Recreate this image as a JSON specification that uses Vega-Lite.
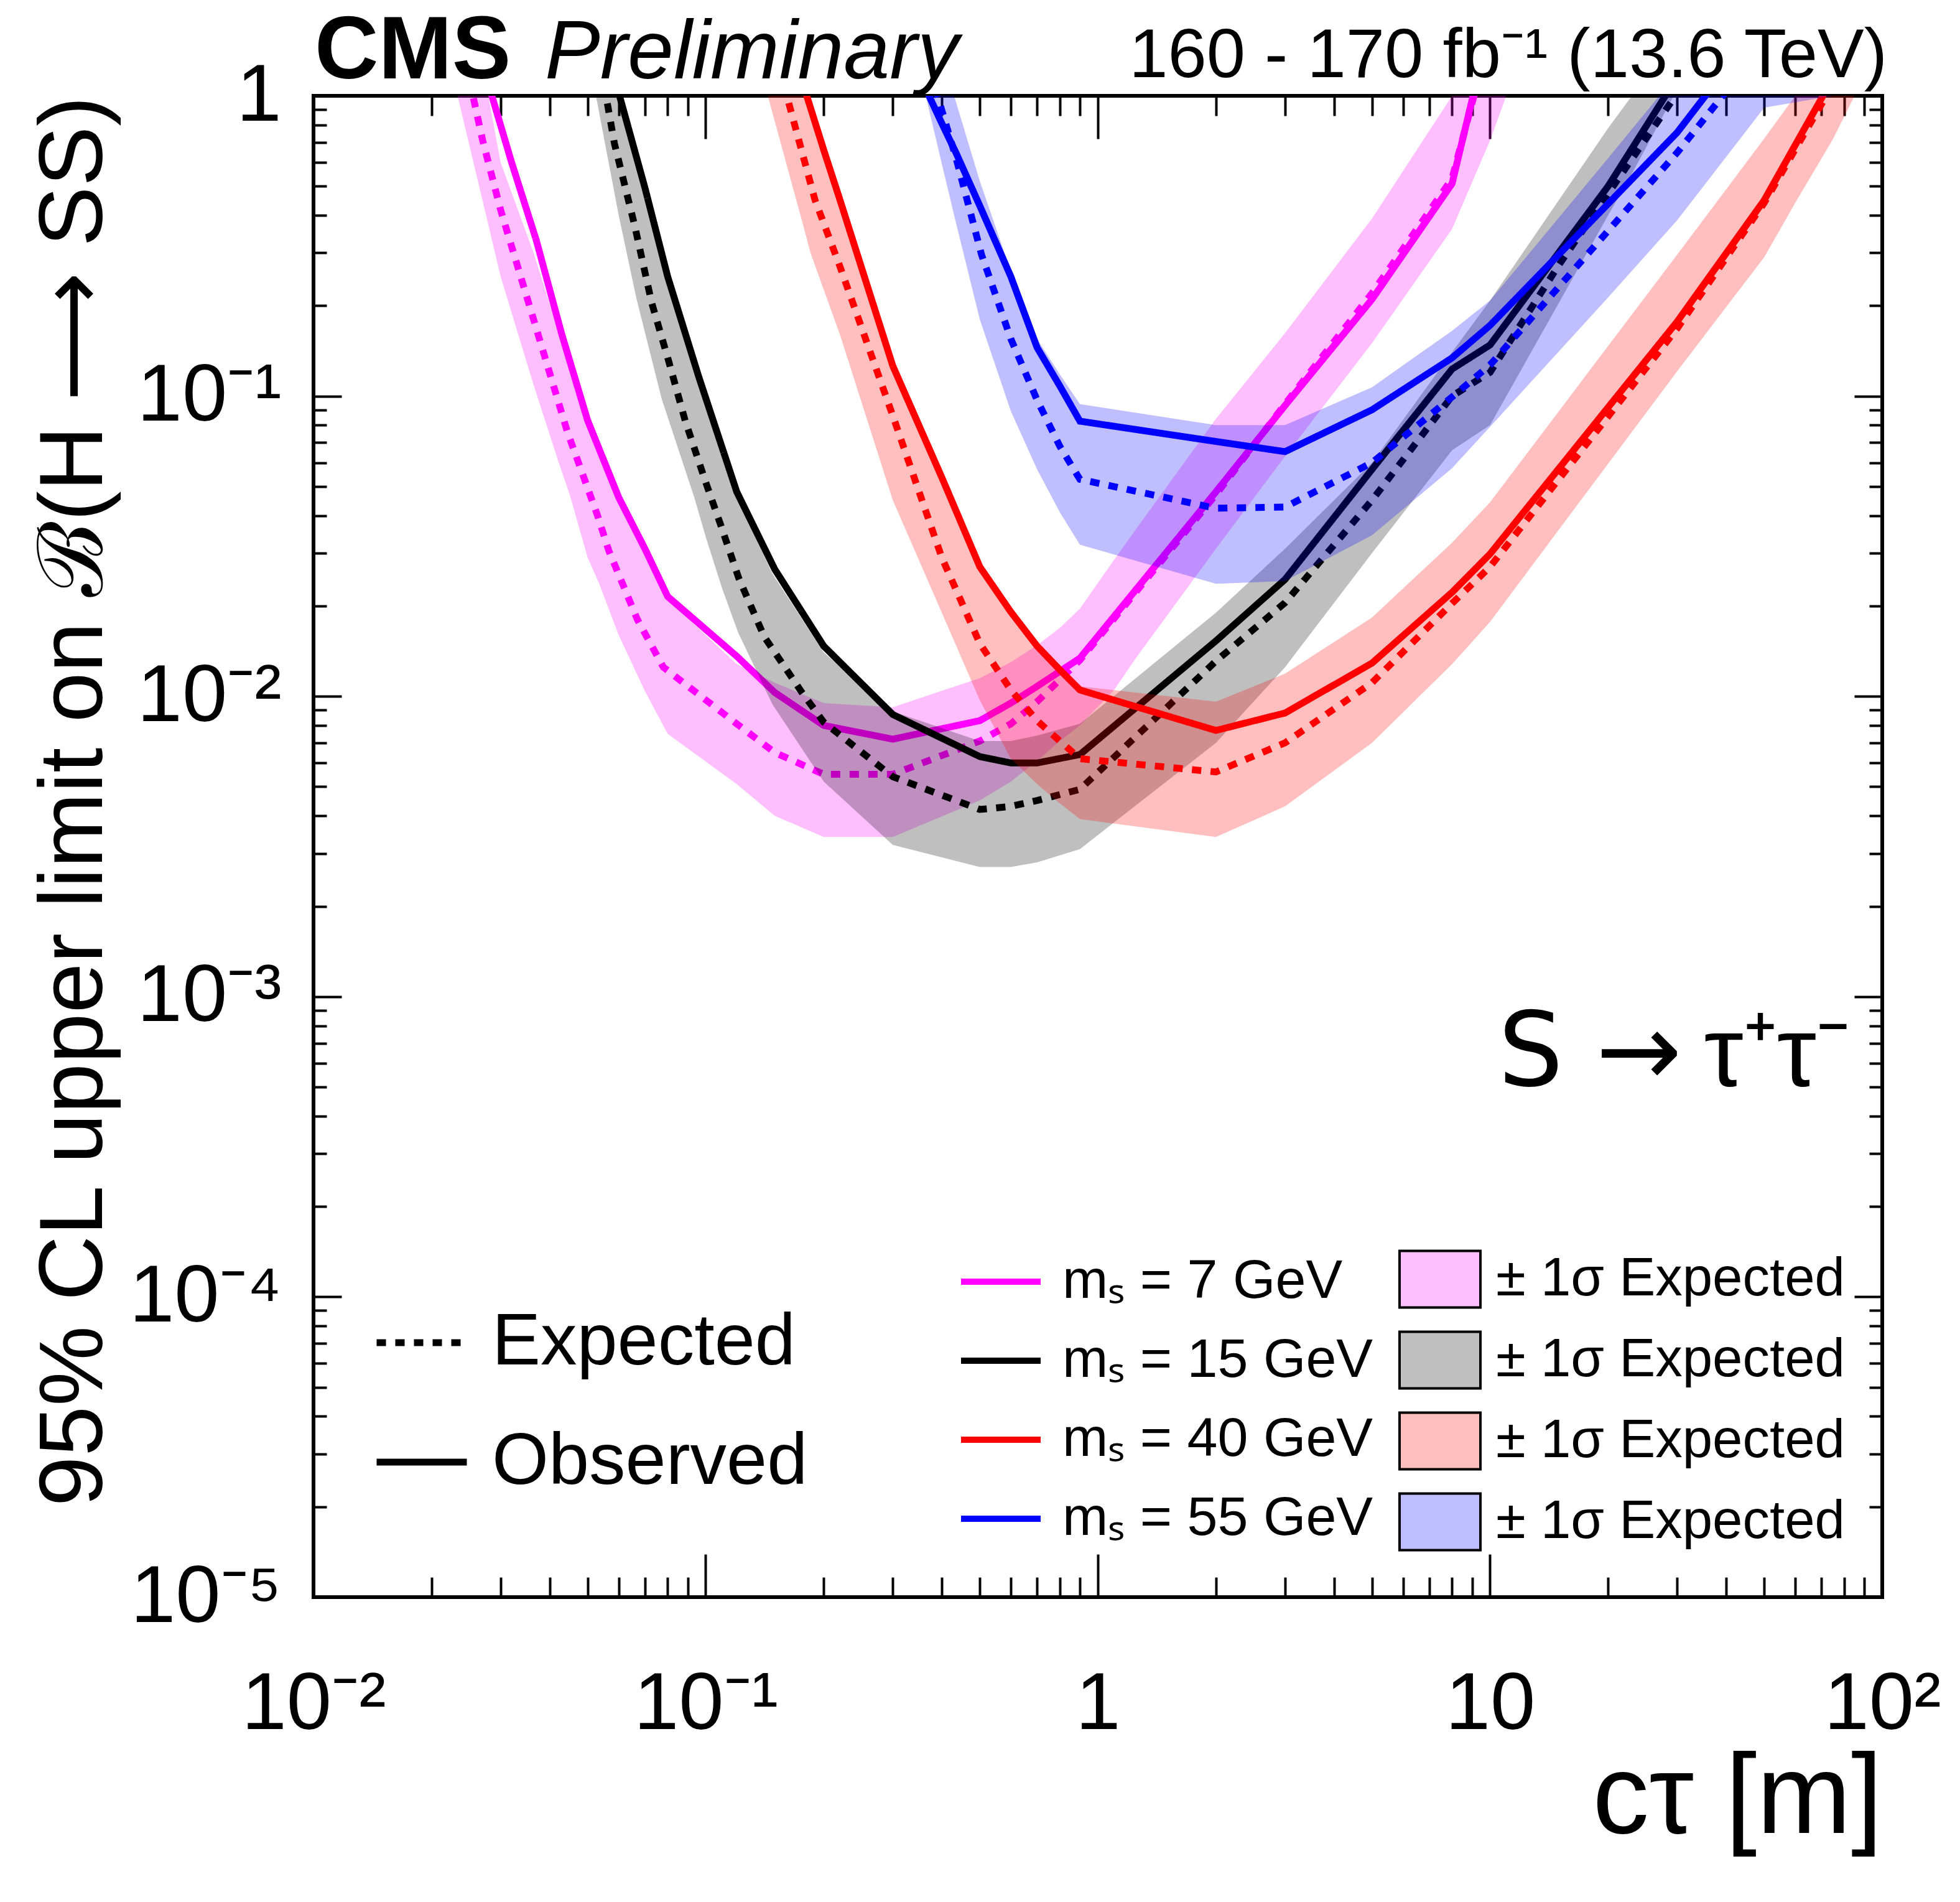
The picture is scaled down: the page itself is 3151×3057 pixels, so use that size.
{
  "$schema": "https://vega.github.io/schema/vega-lite/v6.json",
  "description": "CMS Preliminary: 95% CL upper limits on B(H -> SS) vs c tau for S -> tau tau, four scalar masses",
  "width": 2522,
  "height": 2413,
  "autosize": {"type": "none"},
  "padding": {"left": 504, "top": 154, "right": 125, "bottom": 490},
  "background": "white",
  "config": {
    "view": {"stroke": "black", "strokeWidth": 6},
    "font": "Liberation Sans",
    "axis": {
      "grid": false,
      "domain": false,
      "tickColor": "black",
      "tickWidth": 4,
      "labelColor": "black",
      "labelFont": "Liberation Sans",
      "titleFont": "Liberation Sans",
      "titleColor": "black",
      "titleFontWeight": "normal",
      "labelOverlap": false,
      "labelFlush": false,
      "titleLimit": 5000,
      "labelLimit": 2000
    },
    "legend": {"labelFont": "Liberation Sans", "labelColor": "black", "labelLimit": 3000, "padding": 0}
  },
  "datasets": {
    "lines": [
      {"m": "7", "kind": "Observed", "ct": 0.027, "lim": 1.27},
      {"m": "7", "kind": "Observed", "ct": 0.0285, "lim": 1.0},
      {"m": "7", "kind": "Observed", "ct": 0.032, "lim": 0.6},
      {"m": "7", "kind": "Observed", "ct": 0.037, "lim": 0.33},
      {"m": "7", "kind": "Observed", "ct": 0.043, "lim": 0.16},
      {"m": "7", "kind": "Observed", "ct": 0.05, "lim": 0.083},
      {"m": "7", "kind": "Observed", "ct": 0.06, "lim": 0.046},
      {"m": "7", "kind": "Observed", "ct": 0.07, "lim": 0.031},
      {"m": "7", "kind": "Observed", "ct": 0.08, "lim": 0.0215},
      {"m": "7", "kind": "Observed", "ct": 0.12, "lim": 0.0136},
      {"m": "7", "kind": "Observed", "ct": 0.15, "lim": 0.0103},
      {"m": "7", "kind": "Observed", "ct": 0.2, "lim": 0.008},
      {"m": "7", "kind": "Observed", "ct": 0.3, "lim": 0.0072},
      {"m": "7", "kind": "Observed", "ct": 0.5, "lim": 0.0083},
      {"m": "7", "kind": "Observed", "ct": 0.6, "lim": 0.0095},
      {"m": "7", "kind": "Observed", "ct": 0.7, "lim": 0.0108},
      {"m": "7", "kind": "Observed", "ct": 0.9, "lim": 0.0134},
      {"m": "7", "kind": "Observed", "ct": 2, "lim": 0.048},
      {"m": "7", "kind": "Observed", "ct": 3, "lim": 0.093},
      {"m": "7", "kind": "Observed", "ct": 5, "lim": 0.21},
      {"m": "7", "kind": "Observed", "ct": 8, "lim": 0.51},
      {"m": "7", "kind": "Observed", "ct": 9.05, "lim": 1.0},
      {"m": "7", "kind": "Observed", "ct": 9.3, "lim": 1.15},

      {"m": "7", "kind": "Expected", "ct": 0.0245, "lim": 1.3},
      {"m": "7", "kind": "Expected", "ct": 0.0255, "lim": 1.0},
      {"m": "7", "kind": "Expected", "ct": 0.027, "lim": 0.71},
      {"m": "7", "kind": "Expected", "ct": 0.03, "lim": 0.417},
      {"m": "7", "kind": "Expected", "ct": 0.0336, "lim": 0.255},
      {"m": "7", "kind": "Expected", "ct": 0.0387, "lim": 0.138},
      {"m": "7", "kind": "Expected", "ct": 0.0444, "lim": 0.076},
      {"m": "7", "kind": "Expected", "ct": 0.053, "lim": 0.04},
      {"m": "7", "kind": "Expected", "ct": 0.0566, "lim": 0.0306},
      {"m": "7", "kind": "Expected", "ct": 0.067, "lim": 0.018},
      {"m": "7", "kind": "Expected", "ct": 0.078, "lim": 0.0125},
      {"m": "7", "kind": "Expected", "ct": 0.12, "lim": 0.0081},
      {"m": "7", "kind": "Expected", "ct": 0.15, "lim": 0.0065},
      {"m": "7", "kind": "Expected", "ct": 0.2, "lim": 0.0055},
      {"m": "7", "kind": "Expected", "ct": 0.3, "lim": 0.0055},
      {"m": "7", "kind": "Expected", "ct": 0.5, "lim": 0.0071},
      {"m": "7", "kind": "Expected", "ct": 0.6, "lim": 0.0081},
      {"m": "7", "kind": "Expected", "ct": 0.7, "lim": 0.0096},
      {"m": "7", "kind": "Expected", "ct": 0.9, "lim": 0.0132},
      {"m": "7", "kind": "Expected", "ct": 2, "lim": 0.047},
      {"m": "7", "kind": "Expected", "ct": 3, "lim": 0.094},
      {"m": "7", "kind": "Expected", "ct": 5, "lim": 0.22},
      {"m": "7", "kind": "Expected", "ct": 8, "lim": 0.53},
      {"m": "7", "kind": "Expected", "ct": 9.1, "lim": 1.0},
      {"m": "7", "kind": "Expected", "ct": 9.3, "lim": 1.15},

      {"m": "15", "kind": "Observed", "ct": 0.058, "lim": 1.2},
      {"m": "15", "kind": "Observed", "ct": 0.0603, "lim": 1.0},
      {"m": "15", "kind": "Observed", "ct": 0.07, "lim": 0.494},
      {"m": "15", "kind": "Observed", "ct": 0.08, "lim": 0.25},
      {"m": "15", "kind": "Observed", "ct": 0.096, "lim": 0.116},
      {"m": "15", "kind": "Observed", "ct": 0.12, "lim": 0.048},
      {"m": "15", "kind": "Observed", "ct": 0.15, "lim": 0.0265},
      {"m": "15", "kind": "Observed", "ct": 0.2, "lim": 0.0147},
      {"m": "15", "kind": "Observed", "ct": 0.3, "lim": 0.0087},
      {"m": "15", "kind": "Observed", "ct": 0.5, "lim": 0.0063},
      {"m": "15", "kind": "Observed", "ct": 0.6, "lim": 0.006},
      {"m": "15", "kind": "Observed", "ct": 0.7, "lim": 0.006},
      {"m": "15", "kind": "Observed", "ct": 0.9, "lim": 0.0064},
      {"m": "15", "kind": "Observed", "ct": 2, "lim": 0.0153},
      {"m": "15", "kind": "Observed", "ct": 3, "lim": 0.0245},
      {"m": "15", "kind": "Observed", "ct": 5, "lim": 0.057},
      {"m": "15", "kind": "Observed", "ct": 8, "lim": 0.123},
      {"m": "15", "kind": "Observed", "ct": 10, "lim": 0.148},
      {"m": "15", "kind": "Observed", "ct": 20, "lim": 0.5},
      {"m": "15", "kind": "Observed", "ct": 28, "lim": 1.0},
      {"m": "15", "kind": "Observed", "ct": 30, "lim": 1.15},

      {"m": "15", "kind": "Expected", "ct": 0.054, "lim": 1.25},
      {"m": "15", "kind": "Expected", "ct": 0.0557, "lim": 1.0},
      {"m": "15", "kind": "Expected", "ct": 0.0585, "lim": 0.695},
      {"m": "15", "kind": "Expected", "ct": 0.0659, "lim": 0.37},
      {"m": "15", "kind": "Expected", "ct": 0.0728, "lim": 0.205},
      {"m": "15", "kind": "Expected", "ct": 0.0803, "lim": 0.132},
      {"m": "15", "kind": "Expected", "ct": 0.0887, "lim": 0.0826},
      {"m": "15", "kind": "Expected", "ct": 0.1, "lim": 0.0517},
      {"m": "15", "kind": "Expected", "ct": 0.109, "lim": 0.0375},
      {"m": "15", "kind": "Expected", "ct": 0.1215, "lim": 0.0247},
      {"m": "15", "kind": "Expected", "ct": 0.141, "lim": 0.0158},
      {"m": "15", "kind": "Expected", "ct": 0.176, "lim": 0.0103},
      {"m": "15", "kind": "Expected", "ct": 0.2, "lim": 0.0082},
      {"m": "15", "kind": "Expected", "ct": 0.3, "lim": 0.0054},
      {"m": "15", "kind": "Expected", "ct": 0.5, "lim": 0.0042},
      {"m": "15", "kind": "Expected", "ct": 0.6, "lim": 0.0043},
      {"m": "15", "kind": "Expected", "ct": 0.7, "lim": 0.0045},
      {"m": "15", "kind": "Expected", "ct": 0.9, "lim": 0.0049},
      {"m": "15", "kind": "Expected", "ct": 2, "lim": 0.0131},
      {"m": "15", "kind": "Expected", "ct": 3, "lim": 0.0205},
      {"m": "15", "kind": "Expected", "ct": 5, "lim": 0.045},
      {"m": "15", "kind": "Expected", "ct": 8, "lim": 0.1},
      {"m": "15", "kind": "Expected", "ct": 10, "lim": 0.12},
      {"m": "15", "kind": "Expected", "ct": 15, "lim": 0.274},
      {"m": "15", "kind": "Expected", "ct": 29, "lim": 0.956},
      {"m": "15", "kind": "Expected", "ct": 31, "lim": 1.1},

      {"m": "40", "kind": "Observed", "ct": 0.175, "lim": 1.2},
      {"m": "40", "kind": "Observed", "ct": 0.181, "lim": 1.0},
      {"m": "40", "kind": "Observed", "ct": 0.2, "lim": 0.66},
      {"m": "40", "kind": "Observed", "ct": 0.22, "lim": 0.45},
      {"m": "40", "kind": "Observed", "ct": 0.3, "lim": 0.126},
      {"m": "40", "kind": "Observed", "ct": 0.4, "lim": 0.0536},
      {"m": "40", "kind": "Observed", "ct": 0.5, "lim": 0.027},
      {"m": "40", "kind": "Observed", "ct": 0.6, "lim": 0.0191},
      {"m": "40", "kind": "Observed", "ct": 0.7, "lim": 0.0147},
      {"m": "40", "kind": "Observed", "ct": 0.8, "lim": 0.01225},
      {"m": "40", "kind": "Observed", "ct": 0.9, "lim": 0.0105},
      {"m": "40", "kind": "Observed", "ct": 2, "lim": 0.0077},
      {"m": "40", "kind": "Observed", "ct": 3, "lim": 0.0088},
      {"m": "40", "kind": "Observed", "ct": 5, "lim": 0.0129},
      {"m": "40", "kind": "Observed", "ct": 8, "lim": 0.0222},
      {"m": "40", "kind": "Observed", "ct": 10, "lim": 0.0298},
      {"m": "40", "kind": "Observed", "ct": 30, "lim": 0.177},
      {"m": "40", "kind": "Observed", "ct": 50, "lim": 0.449},
      {"m": "40", "kind": "Observed", "ct": 70.6, "lim": 1.0},
      {"m": "40", "kind": "Observed", "ct": 75, "lim": 1.15},

      {"m": "40", "kind": "Expected", "ct": 0.155, "lim": 1.25},
      {"m": "40", "kind": "Expected", "ct": 0.161, "lim": 1.0},
      {"m": "40", "kind": "Expected", "ct": 0.19, "lim": 0.45},
      {"m": "40", "kind": "Expected", "ct": 0.22, "lim": 0.27},
      {"m": "40", "kind": "Expected", "ct": 0.3, "lim": 0.086},
      {"m": "40", "kind": "Expected", "ct": 0.4, "lim": 0.029},
      {"m": "40", "kind": "Expected", "ct": 0.5, "lim": 0.015},
      {"m": "40", "kind": "Expected", "ct": 0.6, "lim": 0.0105},
      {"m": "40", "kind": "Expected", "ct": 0.7, "lim": 0.0083},
      {"m": "40", "kind": "Expected", "ct": 0.8, "lim": 0.0071},
      {"m": "40", "kind": "Expected", "ct": 0.9, "lim": 0.0062},
      {"m": "40", "kind": "Expected", "ct": 2, "lim": 0.0056},
      {"m": "40", "kind": "Expected", "ct": 3, "lim": 0.007},
      {"m": "40", "kind": "Expected", "ct": 5, "lim": 0.0111},
      {"m": "40", "kind": "Expected", "ct": 8, "lim": 0.0204},
      {"m": "40", "kind": "Expected", "ct": 10, "lim": 0.027},
      {"m": "40", "kind": "Expected", "ct": 30, "lim": 0.168},
      {"m": "40", "kind": "Expected", "ct": 50, "lim": 0.44},
      {"m": "40", "kind": "Expected", "ct": 72, "lim": 1.0},
      {"m": "40", "kind": "Expected", "ct": 76, "lim": 1.15},

      {"m": "55", "kind": "Observed", "ct": 0.36, "lim": 1.09},
      {"m": "55", "kind": "Observed", "ct": 0.371, "lim": 1.0},
      {"m": "55", "kind": "Observed", "ct": 0.4, "lim": 0.81},
      {"m": "55", "kind": "Observed", "ct": 0.435, "lim": 0.645},
      {"m": "55", "kind": "Observed", "ct": 0.5, "lim": 0.43},
      {"m": "55", "kind": "Observed", "ct": 0.6, "lim": 0.25},
      {"m": "55", "kind": "Observed", "ct": 0.7, "lim": 0.145},
      {"m": "55", "kind": "Observed", "ct": 0.8, "lim": 0.108},
      {"m": "55", "kind": "Observed", "ct": 0.9, "lim": 0.0825},
      {"m": "55", "kind": "Observed", "ct": 2, "lim": 0.0706},
      {"m": "55", "kind": "Observed", "ct": 3, "lim": 0.0653},
      {"m": "55", "kind": "Observed", "ct": 5, "lim": 0.09},
      {"m": "55", "kind": "Observed", "ct": 8, "lim": 0.134},
      {"m": "55", "kind": "Observed", "ct": 10, "lim": 0.172},
      {"m": "55", "kind": "Observed", "ct": 20, "lim": 0.437},
      {"m": "55", "kind": "Observed", "ct": 30, "lim": 0.755},
      {"m": "55", "kind": "Observed", "ct": 35.4, "lim": 1.0},
      {"m": "55", "kind": "Observed", "ct": 38, "lim": 1.1},

      {"m": "55", "kind": "Expected", "ct": 0.385, "lim": 1.06},
      {"m": "55", "kind": "Expected", "ct": 0.39, "lim": 1.0},
      {"m": "55", "kind": "Expected", "ct": 0.435, "lim": 0.62},
      {"m": "55", "kind": "Expected", "ct": 0.505, "lim": 0.296},
      {"m": "55", "kind": "Expected", "ct": 0.6, "lim": 0.155},
      {"m": "55", "kind": "Expected", "ct": 0.7, "lim": 0.097},
      {"m": "55", "kind": "Expected", "ct": 0.8, "lim": 0.068},
      {"m": "55", "kind": "Expected", "ct": 0.9, "lim": 0.0528},
      {"m": "55", "kind": "Expected", "ct": 2, "lim": 0.0423},
      {"m": "55", "kind": "Expected", "ct": 3, "lim": 0.0427},
      {"m": "55", "kind": "Expected", "ct": 5, "lim": 0.06},
      {"m": "55", "kind": "Expected", "ct": 8, "lim": 0.0993},
      {"m": "55", "kind": "Expected", "ct": 10, "lim": 0.127},
      {"m": "55", "kind": "Expected", "ct": 20, "lim": 0.355},
      {"m": "55", "kind": "Expected", "ct": 30, "lim": 0.647},
      {"m": "55", "kind": "Expected", "ct": 39.2, "lim": 1.0},
      {"m": "55", "kind": "Expected", "ct": 41, "lim": 1.07}
    ],
    "bands": [
      {"b": "b7", "ct": 0.0233, "lo": 1.0, "hi": 2.4},
      {"b": "b7", "ct": 0.025, "lo": 0.68, "hi": 1.6},
      {"b": "b7", "ct": 0.0279, "lo": 0.373, "hi": 1.0},
      {"b": "b7", "ct": 0.03, "lo": 0.25, "hi": 0.6},
      {"b": "b7", "ct": 0.0364, "lo": 0.109, "hi": 0.3},
      {"b": "b7", "ct": 0.0422, "lo": 0.06, "hi": 0.163},
      {"b": "b7", "ct": 0.045, "lo": 0.047, "hi": 0.125},
      {"b": "b7", "ct": 0.05, "lo": 0.029, "hi": 0.08},
      {"b": "b7", "ct": 0.0535, "lo": 0.0237, "hi": 0.066},
      {"b": "b7", "ct": 0.06, "lo": 0.016, "hi": 0.045},
      {"b": "b7", "ct": 0.07, "lo": 0.0104, "hi": 0.03},
      {"b": "b7", "ct": 0.08, "lo": 0.0075, "hi": 0.021},
      {"b": "b7", "ct": 0.12, "lo": 0.0051, "hi": 0.0128},
      {"b": "b7", "ct": 0.15, "lo": 0.004, "hi": 0.0111},
      {"b": "b7", "ct": 0.2, "lo": 0.0034, "hi": 0.0095},
      {"b": "b7", "ct": 0.3, "lo": 0.0034, "hi": 0.0092},
      {"b": "b7", "ct": 0.5, "lo": 0.0045, "hi": 0.0115},
      {"b": "b7", "ct": 0.6, "lo": 0.0052, "hi": 0.013},
      {"b": "b7", "ct": 0.7, "lo": 0.0061, "hi": 0.0148},
      {"b": "b7", "ct": 0.8, "lo": 0.0071, "hi": 0.0169},
      {"b": "b7", "ct": 0.9, "lo": 0.008, "hi": 0.0196},
      {"b": "b7", "ct": 1.1, "lo": 0.0105, "hi": 0.0285},
      {"b": "b7", "ct": 1.25, "lo": 0.0134, "hi": 0.036},
      {"b": "b7", "ct": 2, "lo": 0.031, "hi": 0.084},
      {"b": "b7", "ct": 3, "lo": 0.063, "hi": 0.162},
      {"b": "b7", "ct": 5, "lo": 0.15, "hi": 0.39},
      {"b": "b7", "ct": 8, "lo": 0.36, "hi": 1.0},
      {"b": "b7", "ct": 10, "lo": 0.71, "hi": 1.8},
      {"b": "b7", "ct": 11, "lo": 1.0, "hi": 2.2},

      {"b": "b15", "ct": 0.0525, "lo": 1.0, "hi": 1.9},
      {"b": "b15", "ct": 0.06, "lo": 0.4, "hi": 1.0},
      {"b": "b15", "ct": 0.0666, "lo": 0.211, "hi": 0.6},
      {"b": "b15", "ct": 0.0772, "lo": 0.098, "hi": 0.285},
      {"b": "b15", "ct": 0.0935, "lo": 0.046, "hi": 0.124},
      {"b": "b15", "ct": 0.1, "lo": 0.034, "hi": 0.094},
      {"b": "b15", "ct": 0.11, "lo": 0.023, "hi": 0.065},
      {"b": "b15", "ct": 0.121, "lo": 0.0163, "hi": 0.045},
      {"b": "b15", "ct": 0.148, "lo": 0.0094, "hi": 0.0256},
      {"b": "b15", "ct": 0.2, "lo": 0.0052, "hi": 0.014},
      {"b": "b15", "ct": 0.3, "lo": 0.0032, "hi": 0.0089},
      {"b": "b15", "ct": 0.5, "lo": 0.0027, "hi": 0.0071},
      {"b": "b15", "ct": 0.6, "lo": 0.0027, "hi": 0.0071},
      {"b": "b15", "ct": 0.7, "lo": 0.0028, "hi": 0.0074},
      {"b": "b15", "ct": 0.9, "lo": 0.0031, "hi": 0.0081},
      {"b": "b15", "ct": 2, "lo": 0.007, "hi": 0.019},
      {"b": "b15", "ct": 3, "lo": 0.0125, "hi": 0.031},
      {"b": "b15", "ct": 5, "lo": 0.03, "hi": 0.06},
      {"b": "b15", "ct": 8, "lo": 0.066, "hi": 0.14},
      {"b": "b15", "ct": 10, "lo": 0.08, "hi": 0.208},
      {"b": "b15", "ct": 20, "lo": 0.4, "hi": 0.78},
      {"b": "b15", "ct": 23, "lo": 0.55, "hi": 1.0},
      {"b": "b15", "ct": 30, "lo": 1.05, "hi": 1.8},

      {"b": "b40", "ct": 0.144, "lo": 1.0, "hi": 2.8},
      {"b": "b40", "ct": 0.1775, "lo": 0.368, "hi": 1.0},
      {"b": "b40", "ct": 0.185, "lo": 0.3, "hi": 0.87},
      {"b": "b40", "ct": 0.2, "lo": 0.226, "hi": 0.62},
      {"b": "b40", "ct": 0.22, "lo": 0.16, "hi": 0.43},
      {"b": "b40", "ct": 0.3, "lo": 0.045, "hi": 0.12},
      {"b": "b40", "ct": 0.4, "lo": 0.019, "hi": 0.051},
      {"b": "b40", "ct": 0.5, "lo": 0.0097, "hi": 0.026},
      {"b": "b40", "ct": 0.6, "lo": 0.0062, "hi": 0.0185},
      {"b": "b40", "ct": 0.7, "lo": 0.0051, "hi": 0.0143},
      {"b": "b40", "ct": 0.8, "lo": 0.0044, "hi": 0.012},
      {"b": "b40", "ct": 0.9, "lo": 0.0039, "hi": 0.0108},
      {"b": "b40", "ct": 2, "lo": 0.0034, "hi": 0.0096},
      {"b": "b40", "ct": 3, "lo": 0.0043, "hi": 0.0119},
      {"b": "b40", "ct": 5, "lo": 0.007, "hi": 0.0183},
      {"b": "b40", "ct": 8, "lo": 0.0128, "hi": 0.0325},
      {"b": "b40", "ct": 10, "lo": 0.0177, "hi": 0.0443},
      {"b": "b40", "ct": 30, "lo": 0.121, "hi": 0.296},
      {"b": "b40", "ct": 50, "lo": 0.29, "hi": 0.72},
      {"b": "b40", "ct": 60, "lo": 0.44, "hi": 1.0},
      {"b": "b40", "ct": 75, "lo": 0.72, "hi": 1.6},
      {"b": "b40", "ct": 85, "lo": 1.0, "hi": 2.0},

      {"b": "b55", "ct": 0.364, "lo": 1.0, "hi": 2.1},
      {"b": "b55", "ct": 0.4, "lo": 0.594, "hi": 1.38},
      {"b": "b55", "ct": 0.43, "lo": 0.4, "hi": 1.0},
      {"b": "b55", "ct": 0.5, "lo": 0.18, "hi": 0.52},
      {"b": "b55", "ct": 0.6, "lo": 0.089, "hi": 0.26},
      {"b": "b55", "ct": 0.7, "lo": 0.057, "hi": 0.155},
      {"b": "b55", "ct": 0.8, "lo": 0.041, "hi": 0.118},
      {"b": "b55", "ct": 0.9, "lo": 0.032, "hi": 0.094},
      {"b": "b55", "ct": 2, "lo": 0.0237, "hi": 0.08},
      {"b": "b55", "ct": 3, "lo": 0.0242, "hi": 0.08},
      {"b": "b55", "ct": 5, "lo": 0.0344, "hi": 0.107},
      {"b": "b55", "ct": 8, "lo": 0.0575, "hi": 0.165},
      {"b": "b55", "ct": 10, "lo": 0.079, "hi": 0.208},
      {"b": "b55", "ct": 20, "lo": 0.213, "hi": 0.62},
      {"b": "b55", "ct": 27, "lo": 0.33, "hi": 1.0},
      {"b": "b55", "ct": 30, "lo": 0.385, "hi": 1.2},
      {"b": "b55", "ct": 50, "lo": 0.913, "hi": 2.5},
      {"b": "b55", "ct": 75, "lo": 1.0, "hi": 4.0},
      {"b": "b55", "ct": 100, "lo": 1.05, "hi": 5.0}
    ]
  },
  "resolve": {"axis": {"x": "independent", "y": "independent"}},
  "layer": [
    {
      "data": {"name": "bands"},
      "transform": [{"filter": "datum.b == 'b7'"}],
      "mark": {"type": "area", "fillOpacity": 0.25, "clip": true},
      "encoding": {
        "x": {
          "field": "ct", "type": "quantitative",
          "scale": {"type": "log", "domain": [0.01, 100]},
          "axis": {
            "orient": "bottom",
            "values": [0.01, 0.1, 1, 10, 100],
            "tickSize": -69,
            "labelFontSize": 130,
            "labelPadding": 280,
            "labelBaseline": "alphabetic",
            "labelExpr": "datum.value < 0.05 ? '10⁻²' : datum.value < 0.5 ? '10⁻¹' : datum.value < 5 ? '1' : datum.value < 50 ? '10' : '10²'",
            "title": "cτ [m]",
            "titleFontSize": 182,
            "titleAlign": "right",
            "titleBaseline": "alphabetic",
            "titleX": 2522,
            "titleY": 378
          }
        },
        "y": {
          "field": "lo", "type": "quantitative",
          "scale": {"type": "log", "domain": [0.00001, 1]},
          "axis": {
            "orient": "left",
            "values": [0.00001, 0.0001, 0.001, 0.01, 0.1, 1],
            "tickSize": -45,
            "labelFontSize": 130,
            "labelPadding": 97,
            "labelBaseline": "middle",
            "labelExpr": "datum.value > 0.5 ? '1' : datum.value > 0.05 ? '10⁻¹' : datum.value > 0.005 ? '10⁻²' : datum.value > 0.0005 ? '10⁻³' : datum.value > 0.00005 ? '10⁻⁴' : '10⁻⁵'",
            "title": "95% CL upper limit on ℬ(H ⟶ SS)",
            "titleFontSize": 145,
            "titleAngle": 270,
            "titleAlign": "right",
            "titleBaseline": "alphabetic",
            "titleX": -341,
            "titleY": 0
          }
        },
        "y2": {"field": "hi"},
        "fill": {
          "field": "b", "type": "nominal",
          "scale": {"domain": ["b7", "b15", "b40", "b55"], "range": ["#ff00ff", "#000000", "#ff0000", "#0000ff"]},
          "legend": {
            "orient": "none", "legendX": 1744, "legendY": 1835, "title": null,
            "symbolType": "M-1,-0.7H1V0.7H-1Z", "symbolSize": 16900,
            "labelExpr": "'± 1σ Expected'", "labelFontSize": 87, "labelOffset": 23,
            "rowPadding": 9,
            "encode": {"symbols": {"update": {"fillOpacity": {"value": 0.25}, "stroke": {"value": "black"}, "strokeWidth": {"value": 4}, "opacity": {"value": 1}}}}
          }
        }
      }
    },
    {
      "data": {"name": "lines"},
      "transform": [{"filter": "datum.m == '7' && datum.kind == 'Expected'"}],
      "mark": {"type": "line", "strokeWidth": 11, "clip": true},
      "encoding": {
        "x": {
          "field": "ct", "type": "quantitative",
          "scale": {"type": "log", "domain": [0.01, 100]},
          "axis": {"orient": "bottom", "values": [0.02, 0.03, 0.04, 0.05, 0.06, 0.07, 0.08, 0.09, 0.2, 0.3, 0.4, 0.5, 0.6, 0.7, 0.8, 0.9, 2, 3, 4, 5, 6, 7, 8, 9, 20, 30, 40, 50, 60, 70, 80, 90], "tickSize": -32, "labels": false, "title": null}
        },
        "y": {
          "field": "lim", "type": "quantitative",
          "scale": {"type": "log", "domain": [0.00001, 1]},
          "axis": {"orient": "left", "values": [0.00002, 0.00003, 0.00004, 0.00005, 0.00006, 0.00007, 0.00008, 0.00009, 0.0002, 0.0003, 0.0004, 0.0005, 0.0006, 0.0007, 0.0008, 0.0009, 0.002, 0.003, 0.004, 0.005, 0.006, 0.007, 0.008, 0.009, 0.02, 0.03, 0.04, 0.05, 0.06, 0.07, 0.08, 0.09, 0.2, 0.3, 0.4, 0.5, 0.6, 0.7, 0.8, 0.9], "tickSize": -21, "labels": false, "title": null}
        },
        "stroke": {
          "field": "m", "type": "nominal",
          "scale": {"domain": ["7", "15", "40", "55"], "range": ["#ff00ff", "#000000", "#ff0000", "#0000ff"]},
          "legend": {
            "orient": "none", "legendX": 1036, "legendY": 1837, "title": null,
            "symbolType": "stroke", "symbolSize": 16384, "symbolStrokeWidth": 10,
            "labelExpr": "'mₛ = ' + datum.label + ' GeV'", "labelFontSize": 88, "labelOffset": 30,
            "rowPadding": 14,
            "encode": {"symbols": {"update": {"strokeWidth": {"value": 10}, "strokeDash": {"value": [1, 0]}}}}
          }
        },
        "strokeDash": {
          "field": "kind", "type": "nominal",
          "scale": {"domain": ["Expected", "Observed"], "range": [[15, 15], [1, 0]]},
          "legend": {
            "orient": "none", "legendX": 96, "legendY": 1926, "title": null,
            "symbolType": "stroke", "symbolSize": 21025, "symbolStrokeWidth": 11,
            "labelFontSize": 117, "labelOffset": 35, "rowPadding": 56,
            "encode": {"symbols": {"update": {"stroke": {"value": "black"}, "strokeWidth": {"value": 11}}}}
          }
        }
      }
    },
    {
      "data": {"name": "lines"},
      "transform": [{"filter": "datum.m == '7' && datum.kind == 'Observed'"}],
      "mark": {"type": "line", "strokeWidth": 11, "clip": true},
      "encoding": {
        "x": {
          "field": "ct", "type": "quantitative",
          "scale": {"type": "log", "domain": [0.01, 100]},
          "axis": {"orient": "top", "values": [0.01, 0.1, 1, 10, 100], "tickSize": -69, "labels": false, "title": null}
        },
        "y": {
          "field": "lim", "type": "quantitative",
          "scale": {"type": "log", "domain": [0.00001, 1]},
          "axis": {"orient": "right", "values": [0.00001, 0.0001, 0.001, 0.01, 0.1, 1], "tickSize": -45, "labels": false, "title": null}
        },
        "stroke": {"field": "m", "type": "nominal"},
        "strokeDash": {"field": "kind", "type": "nominal"}
      }
    },
    {
      "data": {"name": "bands"},
      "transform": [{"filter": "datum.b == 'b15'"}],
      "mark": {"type": "area", "fillOpacity": 0.25, "clip": true},
      "encoding": {
        "x": {
          "field": "ct", "type": "quantitative",
          "scale": {"type": "log", "domain": [0.01, 100]},
          "axis": {"orient": "top", "values": [0.02, 0.03, 0.04, 0.05, 0.06, 0.07, 0.08, 0.09, 0.2, 0.3, 0.4, 0.5, 0.6, 0.7, 0.8, 0.9, 2, 3, 4, 5, 6, 7, 8, 9, 20, 30, 40, 50, 60, 70, 80, 90], "tickSize": -32, "labels": false, "title": null}
        },
        "y": {
          "field": "lo", "type": "quantitative",
          "scale": {"type": "log", "domain": [0.00001, 1]},
          "axis": {"orient": "right", "values": [0.00002, 0.00003, 0.00004, 0.00005, 0.00006, 0.00007, 0.00008, 0.00009, 0.0002, 0.0003, 0.0004, 0.0005, 0.0006, 0.0007, 0.0008, 0.0009, 0.002, 0.003, 0.004, 0.005, 0.006, 0.007, 0.008, 0.009, 0.02, 0.03, 0.04, 0.05, 0.06, 0.07, 0.08, 0.09, 0.2, 0.3, 0.4, 0.5, 0.6, 0.7, 0.8, 0.9], "tickSize": -21, "labels": false, "title": null}
        },
        "y2": {"field": "hi"},
        "fill": {"field": "b", "type": "nominal"}
      }
    },
    {
      "data": {"name": "lines"},
      "transform": [{"filter": "datum.m == '15' && datum.kind == 'Expected'"}],
      "mark": {"type": "line", "strokeWidth": 11, "clip": true},
      "encoding": {
        "x": {"field": "ct", "type": "quantitative", "scale": {"type": "log", "domain": [0.01, 100]}, "axis": null},
        "y": {"field": "lim", "type": "quantitative", "scale": {"type": "log", "domain": [0.00001, 1]}, "axis": null},
        "stroke": {"field": "m", "type": "nominal"},
        "strokeDash": {"field": "kind", "type": "nominal"}
      }
    },
    {
      "data": {"name": "lines"},
      "transform": [{"filter": "datum.m == '15' && datum.kind == 'Observed'"}],
      "mark": {"type": "line", "strokeWidth": 11, "clip": true},
      "encoding": {
        "x": {"field": "ct", "type": "quantitative", "scale": {"type": "log", "domain": [0.01, 100]}, "axis": null},
        "y": {"field": "lim", "type": "quantitative", "scale": {"type": "log", "domain": [0.00001, 1]}, "axis": null},
        "stroke": {"field": "m", "type": "nominal"},
        "strokeDash": {"field": "kind", "type": "nominal"}
      }
    },
    {
      "data": {"name": "bands"},
      "transform": [{"filter": "datum.b == 'b40'"}],
      "mark": {"type": "area", "fillOpacity": 0.25, "clip": true},
      "encoding": {
        "x": {"field": "ct", "type": "quantitative", "scale": {"type": "log", "domain": [0.01, 100]}, "axis": null},
        "y": {"field": "lo", "type": "quantitative", "scale": {"type": "log", "domain": [0.00001, 1]}, "axis": null},
        "y2": {"field": "hi"},
        "fill": {"field": "b", "type": "nominal"}
      }
    },
    {
      "data": {"name": "lines"},
      "transform": [{"filter": "datum.m == '40' && datum.kind == 'Expected'"}],
      "mark": {"type": "line", "strokeWidth": 11, "clip": true},
      "encoding": {
        "x": {"field": "ct", "type": "quantitative", "scale": {"type": "log", "domain": [0.01, 100]}, "axis": null},
        "y": {"field": "lim", "type": "quantitative", "scale": {"type": "log", "domain": [0.00001, 1]}, "axis": null},
        "stroke": {"field": "m", "type": "nominal"},
        "strokeDash": {"field": "kind", "type": "nominal"}
      }
    },
    {
      "data": {"name": "lines"},
      "transform": [{"filter": "datum.m == '40' && datum.kind == 'Observed'"}],
      "mark": {"type": "line", "strokeWidth": 11, "clip": true},
      "encoding": {
        "x": {"field": "ct", "type": "quantitative", "scale": {"type": "log", "domain": [0.01, 100]}, "axis": null},
        "y": {"field": "lim", "type": "quantitative", "scale": {"type": "log", "domain": [0.00001, 1]}, "axis": null},
        "stroke": {"field": "m", "type": "nominal"},
        "strokeDash": {"field": "kind", "type": "nominal"}
      }
    },
    {
      "data": {"name": "bands"},
      "transform": [{"filter": "datum.b == 'b55'"}],
      "mark": {"type": "area", "fillOpacity": 0.25, "clip": true},
      "encoding": {
        "x": {"field": "ct", "type": "quantitative", "scale": {"type": "log", "domain": [0.01, 100]}, "axis": null},
        "y": {"field": "lo", "type": "quantitative", "scale": {"type": "log", "domain": [0.00001, 1]}, "axis": null},
        "y2": {"field": "hi"},
        "fill": {"field": "b", "type": "nominal"}
      }
    },
    {
      "data": {"name": "lines"},
      "transform": [{"filter": "datum.m == '55' && datum.kind == 'Expected'"}],
      "mark": {"type": "line", "strokeWidth": 11, "clip": true},
      "encoding": {
        "x": {"field": "ct", "type": "quantitative", "scale": {"type": "log", "domain": [0.01, 100]}, "axis": null},
        "y": {"field": "lim", "type": "quantitative", "scale": {"type": "log", "domain": [0.00001, 1]}, "axis": null},
        "stroke": {"field": "m", "type": "nominal"},
        "strokeDash": {"field": "kind", "type": "nominal"}
      }
    },
    {
      "data": {"name": "lines"},
      "transform": [{"filter": "datum.m == '55' && datum.kind == 'Observed'"}],
      "mark": {"type": "line", "strokeWidth": 11, "clip": true},
      "encoding": {
        "x": {"field": "ct", "type": "quantitative", "scale": {"type": "log", "domain": [0.01, 100]}, "axis": null},
        "y": {"field": "lim", "type": "quantitative", "scale": {"type": "log", "domain": [0.00001, 1]}, "axis": null},
        "stroke": {"field": "m", "type": "nominal"},
        "strokeDash": {"field": "kind", "type": "nominal"}
      }
    },
    {
      "data": {"values": [{}]},
      "mark": {"type": "text", "text": "CMS", "font": "Liberation Sans", "fontWeight": "bold", "fontSize": 142, "align": "left", "baseline": "alphabetic", "dx": 2, "dy": -28, "color": "black"},
      "encoding": {
        "x": {"datum": 0.01, "type": "quantitative", "scale": {"type": "log", "domain": [0.01, 100]}, "axis": null},
        "y": {"datum": 1, "type": "quantitative", "scale": {"type": "log", "domain": [0.00001, 1]}, "axis": null}
      }
    },
    {
      "data": {"values": [{}]},
      "mark": {"type": "text", "text": "Preliminary", "font": "Liberation Sans", "fontStyle": "italic", "fontSize": 133, "align": "left", "baseline": "alphabetic", "dx": 372, "dy": -28, "color": "black"},
      "encoding": {
        "x": {"datum": 0.01, "type": "quantitative", "scale": {"type": "log", "domain": [0.01, 100]}, "axis": null},
        "y": {"datum": 1, "type": "quantitative", "scale": {"type": "log", "domain": [0.00001, 1]}, "axis": null}
      }
    },
    {
      "data": {"values": [{}]},
      "mark": {"type": "text", "text": "160 - 170 fb⁻¹ (13.6 TeV)", "font": "Liberation Sans", "fontSize": 112, "align": "right", "baseline": "alphabetic", "dx": 8, "dy": -30, "color": "black"},
      "encoding": {
        "x": {"datum": 100, "type": "quantitative", "scale": {"type": "log", "domain": [0.01, 100]}, "axis": null},
        "y": {"datum": 1, "type": "quantitative", "scale": {"type": "log", "domain": [0.00001, 1]}, "axis": null}
      }
    },
    {
      "data": {"values": [{}]},
      "mark": {"type": "text", "text": "S →", "font": "DejaVu Sans", "fontSize": 165, "align": "right", "baseline": "alphabetic", "dx": -322, "color": "black"},
      "encoding": {
        "x": {"datum": 100, "type": "quantitative", "scale": {"type": "log", "domain": [0.01, 100]}, "axis": null},
        "y": {"datum": 0.000505, "type": "quantitative", "scale": {"type": "log", "domain": [0.00001, 1]}, "axis": null}
      }
    },
    {
      "data": {"values": [{}]},
      "mark": {"type": "text", "text": "τ⁺τ⁻", "font": "Liberation Sans", "fontSize": 160, "align": "right", "baseline": "alphabetic", "dx": -52, "color": "black"},
      "encoding": {
        "x": {"datum": 100, "type": "quantitative", "scale": {"type": "log", "domain": [0.01, 100]}, "axis": null},
        "y": {"datum": 0.000505, "type": "quantitative", "scale": {"type": "log", "domain": [0.00001, 1]}, "axis": null}
      }
    }
  ]
}
